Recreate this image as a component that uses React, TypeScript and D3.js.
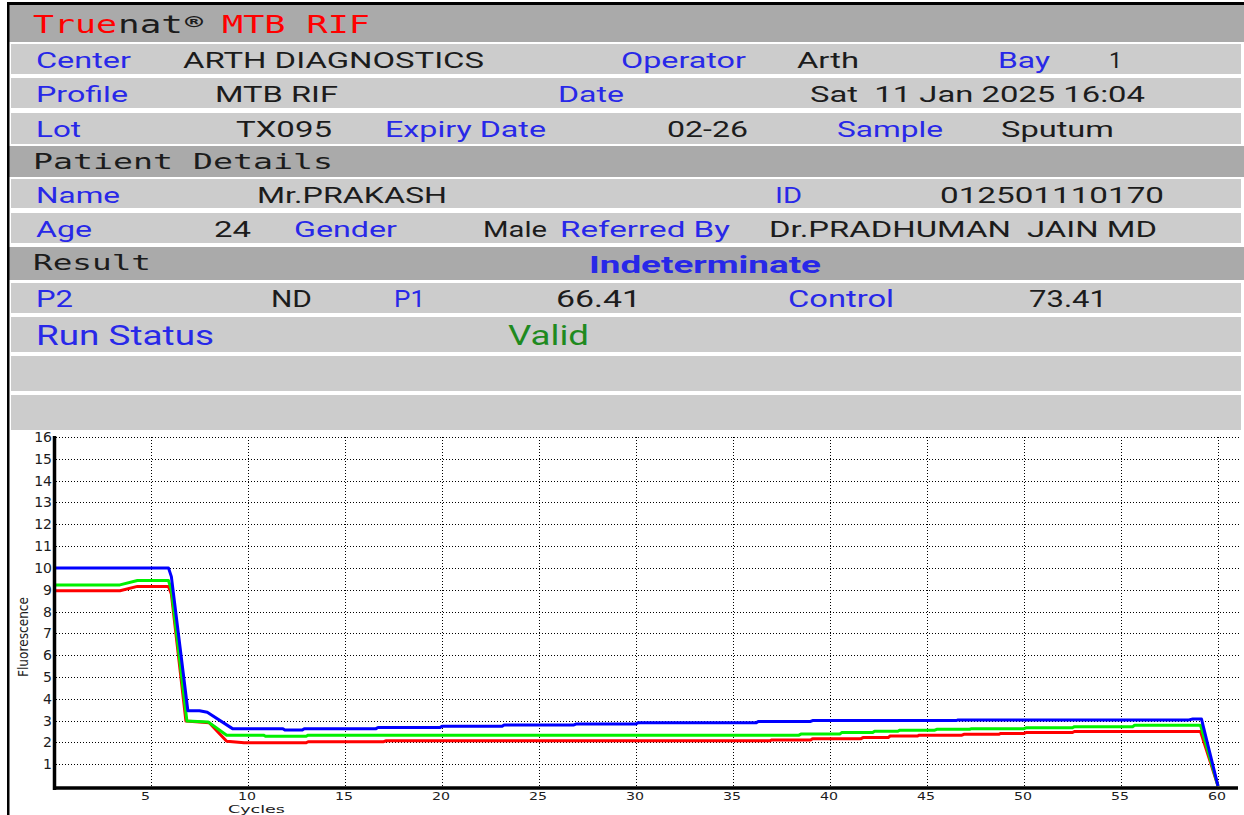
import * as d3 from 'd3';
import React, { useEffect, useRef } from 'react';

// fluorescence traces, break points (cycle -> value)
const redCycles = [0, 3.4, 4.3, 5.9, 6.05, 6.8, 8.0, 8.9, 9.8, 13, 13.1, 17, 17.1, 36.9, 37, 39, 39.1, 41.6, 41.7, 43, 43.1, 44.5, 44.6, 46.8, 46.9, 48.7, 48.8, 50, 50.1, 52.5, 52.6, 59.1, 60];
const redValues = [8.95, 8.95, 9.15, 9.15, 8.8, 2.98, 2.9, 2.05, 1.98, 1.98, 2.03, 2.03, 2.07, 2.07, 2.11, 2.11, 2.17, 2.17, 2.22, 2.22, 2.29, 2.29, 2.33, 2.33, 2.37, 2.37, 2.41, 2.41, 2.45, 2.45, 2.5, 2.5, 0];

const greenCycles = [0, 3.4, 4.3, 5.9, 6.05, 6.85, 7.95, 8.9, 10.8, 10.9, 13, 13.1, 38.4, 38.5, 40.5, 40.6, 42.2, 42.3, 43.5, 43.6, 45.4, 45.5, 47.2, 47.3, 50, 50.1, 52.5, 52.6, 55.6, 55.7, 59.1, 60];
const greenValues = [9.22, 9.22, 9.42, 9.42, 9.0, 2.98, 2.93, 2.33, 2.33, 2.28, 2.28, 2.33, 2.33, 2.38, 2.38, 2.45, 2.45, 2.51, 2.51, 2.56, 2.56, 2.6, 2.6, 2.63, 2.63, 2.67, 2.67, 2.72, 2.72, 2.78, 2.78, 0];

const blueCycles = [0, 5.9, 6.05, 6.9, 7.5, 7.9, 9.2, 11.8, 11.9, 12.8, 12.9, 16.6, 16.7, 19.9, 20, 23.1, 23.2, 26.8, 26.9, 30, 30.1, 36.2, 36.3, 39, 39.1, 46.5, 46.6, 58.5, 58.7, 59.15, 60];
const blueValues = [10, 10, 9.6, 3.45, 3.45, 3.38, 2.63, 2.63, 2.57, 2.57, 2.63, 2.63, 2.68, 2.68, 2.74, 2.74, 2.8, 2.8, 2.84, 2.84, 2.9, 2.9, 2.96, 2.96, 3.0, 3.0, 3.03, 3.03, 3.07, 3.07, 0];

const yTicks = d3.range(1, 17);
const xTicks = [5, 10, 15, 20, 25, 30, 35, 40, 45, 50, 55, 60];

const BLUE = '#2828e8';
const INK = '#1c1c1c';

// report table: bands [top, bottom, dark]
const bands = [
  [5, 42, true], [44, 74, false], [78, 108, false], [113, 144, false], [146, 177, true],
  [179, 208, false], [213, 243, false], [247, 280, true], [283, 313, false],
  [317, 352, false], [356, 391, false], [395, 430, false],
];

// [text, x, width, kind] ; kind L = label (blue), V = value
const rows = [
  { y: 68, size: 22, fields: [['Center', 36, 95, 'L'], ['ARTH DIAGNOSTICS', 183, 301, 'V'], ['Operator', 621, 125, 'L'], ['Arth', 797, 62, 'V'], ['Bay', 998, 52, 'L'], ['1', 1109, 13, 'V']] },
  { y: 102, size: 22, fields: [['Profile', 36, 92, 'L'], ['MTB RIF', 215, 123, 'V'], ['Date', 558, 66, 'L'], ['Sat  11 Jan 2025 16:04', 810, 335, 'V']] },
  { y: 137, size: 22, fields: [['Lot', 36, 45, 'L'], ['TX095', 236, 96, 'V'], ['Expiry Date', 385, 161, 'L'], ['02-26', 667, 81, 'V'], ['Sample', 837, 106, 'L'], ['Sputum', 1001, 113, 'V']] },
  { y: 203, size: 22, fields: [['Name', 36, 84, 'L'], ['Mr.PRAKASH', 257, 190, 'V'], ['ID', 775, 27, 'L'], ['012501110170', 940, 224, 'V']] },
  { y: 237, size: 22, fields: [['Age', 36, 56, 'L'], ['24', 214, 37, 'V'], ['Gender', 294, 103, 'L'], ['Male', 483, 64, 'V'], ['Referred By', 560, 170, 'L'], ['Dr.PRADHUMAN  JAIN MD', 769, 388, 'V']] },
  { y: 307, size: 24, fields: [['P2', 36, 37, 'L'], ['ND', 271, 41, 'V'], ['P1', 394, 31, 'L'], ['66.41', 556, 85, 'V'], ['Control', 788, 106, 'L'], ['73.41', 1029, 78, 'V']] },
  { y: 345, size: 27, fields: [['Run Status', 36, 178, 'L'], ['Valid', 508, 81, 'G']] },
];

function App() {
  const svgRef = useRef(null);

  useEffect(() => {
    document.body.style.margin = '0';
    const svg = d3.select(svgRef.current);
    svg.selectAll('*').remove();

    const txt = (g, t, x, y, w, size, family, fill, weight = 'normal') =>
      g.append('text')
        .attr('x', x).attr('y', y)
        .attr('textLength', w).attr('lengthAdjust', 'spacingAndGlyphs')
        .style('white-space', 'pre')
        .attr('font-family', family).attr('font-size', size)
        .attr('font-weight', weight).attr('fill', fill)
        .text(t);

    // table background
    svg.append('rect').attr('width', 1244).attr('height', 815).attr('fill', '#fff');
    const head = svg.append('g');
    bands.forEach(([y0, y1, dark]) => {
      head.append('rect')
        .attr('x', dark ? 9 : 11).attr('y', y0)
        .attr('width', dark ? 1235 : 1230).attr('height', y1 - y0)
        .attr('fill', dark ? '#aaaaaa' : '#cccccc');
    });
    // frame
    svg.append('rect').attr('x', 7).attr('y', 2).attr('width', 1237).attr('height', 3).attr('fill', '#000');
    svg.append('rect').attr('x', 7).attr('y', 2).attr('width', 2.5).attr('height', 813).attr('fill', '#000');

    const mono = '"DejaVu Sans Mono", monospace';
    const sans = 'Roboto, "Noto Sans", sans-serif';
    const small = '"DejaVu Sans", sans-serif';

    // title
    txt(head, 'True', 33, 33, 84, 24, mono, '#ff0000');
    txt(head, 'nat', 118, 33, 65, 24, mono, INK);
    txt(head, '®', 185, 28, 18, 17, mono, INK, 'bold');
    txt(head, 'MTB RIF', 222, 33, 148, 24, mono, '#ff0000');

    txt(head, 'Patient Details', 33, 169, 300, 21, mono, INK);
    txt(head, 'Result', 33, 270, 118, 21, mono, INK);
    txt(head, 'Indeterminate', 589, 273, 232, 24, sans, BLUE, 'bold');

    rows.forEach(r => {
      r.fields.forEach(([t, x, w, k]) => {
        const fill = k === 'L' ? BLUE : k === 'G' ? '#1f8a1f' : INK;
        txt(head, t, x, r.y, w, r.size, sans, fill);
      });
    });

    // chart
    const x = d3.scaleLinear().domain([0, 60]).range([54, 1218]);
    const y = d3.scaleLinear().domain([0, 16]).range([786, 437]);
    const plot = svg.append('g');

    plot.selectAll('.hg').data(yTicks).enter().append('line')
      .attr('x1', 56).attr('x2', 1240)
      .attr('y1', d => Math.round(y(d)) + 0.5).attr('y2', d => Math.round(y(d)) + 0.5)
      .attr('stroke', '#000').attr('stroke-width', 1).attr('stroke-dasharray', '1,2');
    plot.selectAll('.vg').data(xTicks).enter().append('line')
      .attr('x1', d => Math.round(x(d)) + 0.5).attr('x2', d => Math.round(x(d)) + 0.5)
      .attr('y1', y(16)).attr('y2', y(0))
      .attr('stroke', '#000').attr('stroke-width', 1).attr('stroke-dasharray', '1,2');

    const line = d3.line().x(d => x(d[0])).y(d => y(d[1]));
    const series = [
      [redCycles, redValues, '#ff0000'],
      [greenCycles, greenValues, '#00f000'],
      [blueCycles, blueValues, '#0000ff'],
    ];
    series.forEach(([cs, vs, color]) => {
      plot.append('path')
        .datum(cs.map((c, i) => [c, vs[i]]))
        .attr('fill', 'none').attr('stroke', color)
        .attr('stroke-width', 3).attr('stroke-linejoin', 'round')
        .attr('d', line);
    });

    // axes
    plot.append('line').attr('x1', 54.5).attr('x2', 54.5).attr('y1', 436).attr('y2', 790)
      .attr('stroke', '#000').attr('stroke-width', 3.5);
    plot.append('line').attr('x1', 53).attr('x2', 1238).attr('y1', 788).attr('y2', 788)
      .attr('stroke', '#000').attr('stroke-width', 3.5);

    plot.selectAll('.yl').data(yTicks).enter().append('text')
      .attr('x', 52).attr('y', d => y(d)).attr('dy', '0.36em')
      .attr('text-anchor', 'end')
      .attr('font-family', small).attr('font-size', 14).attr('fill', INK)
      .text(d => d);
    plot.selectAll('.xl').data(xTicks).enter().append('text')
      .attr('x', d => x(d) - 10).attr('y', 800)
      .attr('textLength', d => String(d).length * 9).attr('lengthAdjust', 'spacingAndGlyphs')
      .attr('font-family', small).attr('font-size', 11).attr('fill', INK)
      .text(d => d);

    txt(plot, 'Cycles', 228, 812.5, 57, 10, small, INK);
    plot.append('text')
      .attr('transform', 'translate(28,637) rotate(-90)')
      .attr('text-anchor', 'middle')
      .attr('textLength', 80).attr('lengthAdjust', 'spacingAndGlyphs')
      .attr('font-family', small).attr('font-size', 14).attr('fill', INK)
      .text('Fluorescence');
  }, []);

  return <svg ref={svgRef} width={1244} height={815} style={{ display: 'block' }} />;
}

export default App;
